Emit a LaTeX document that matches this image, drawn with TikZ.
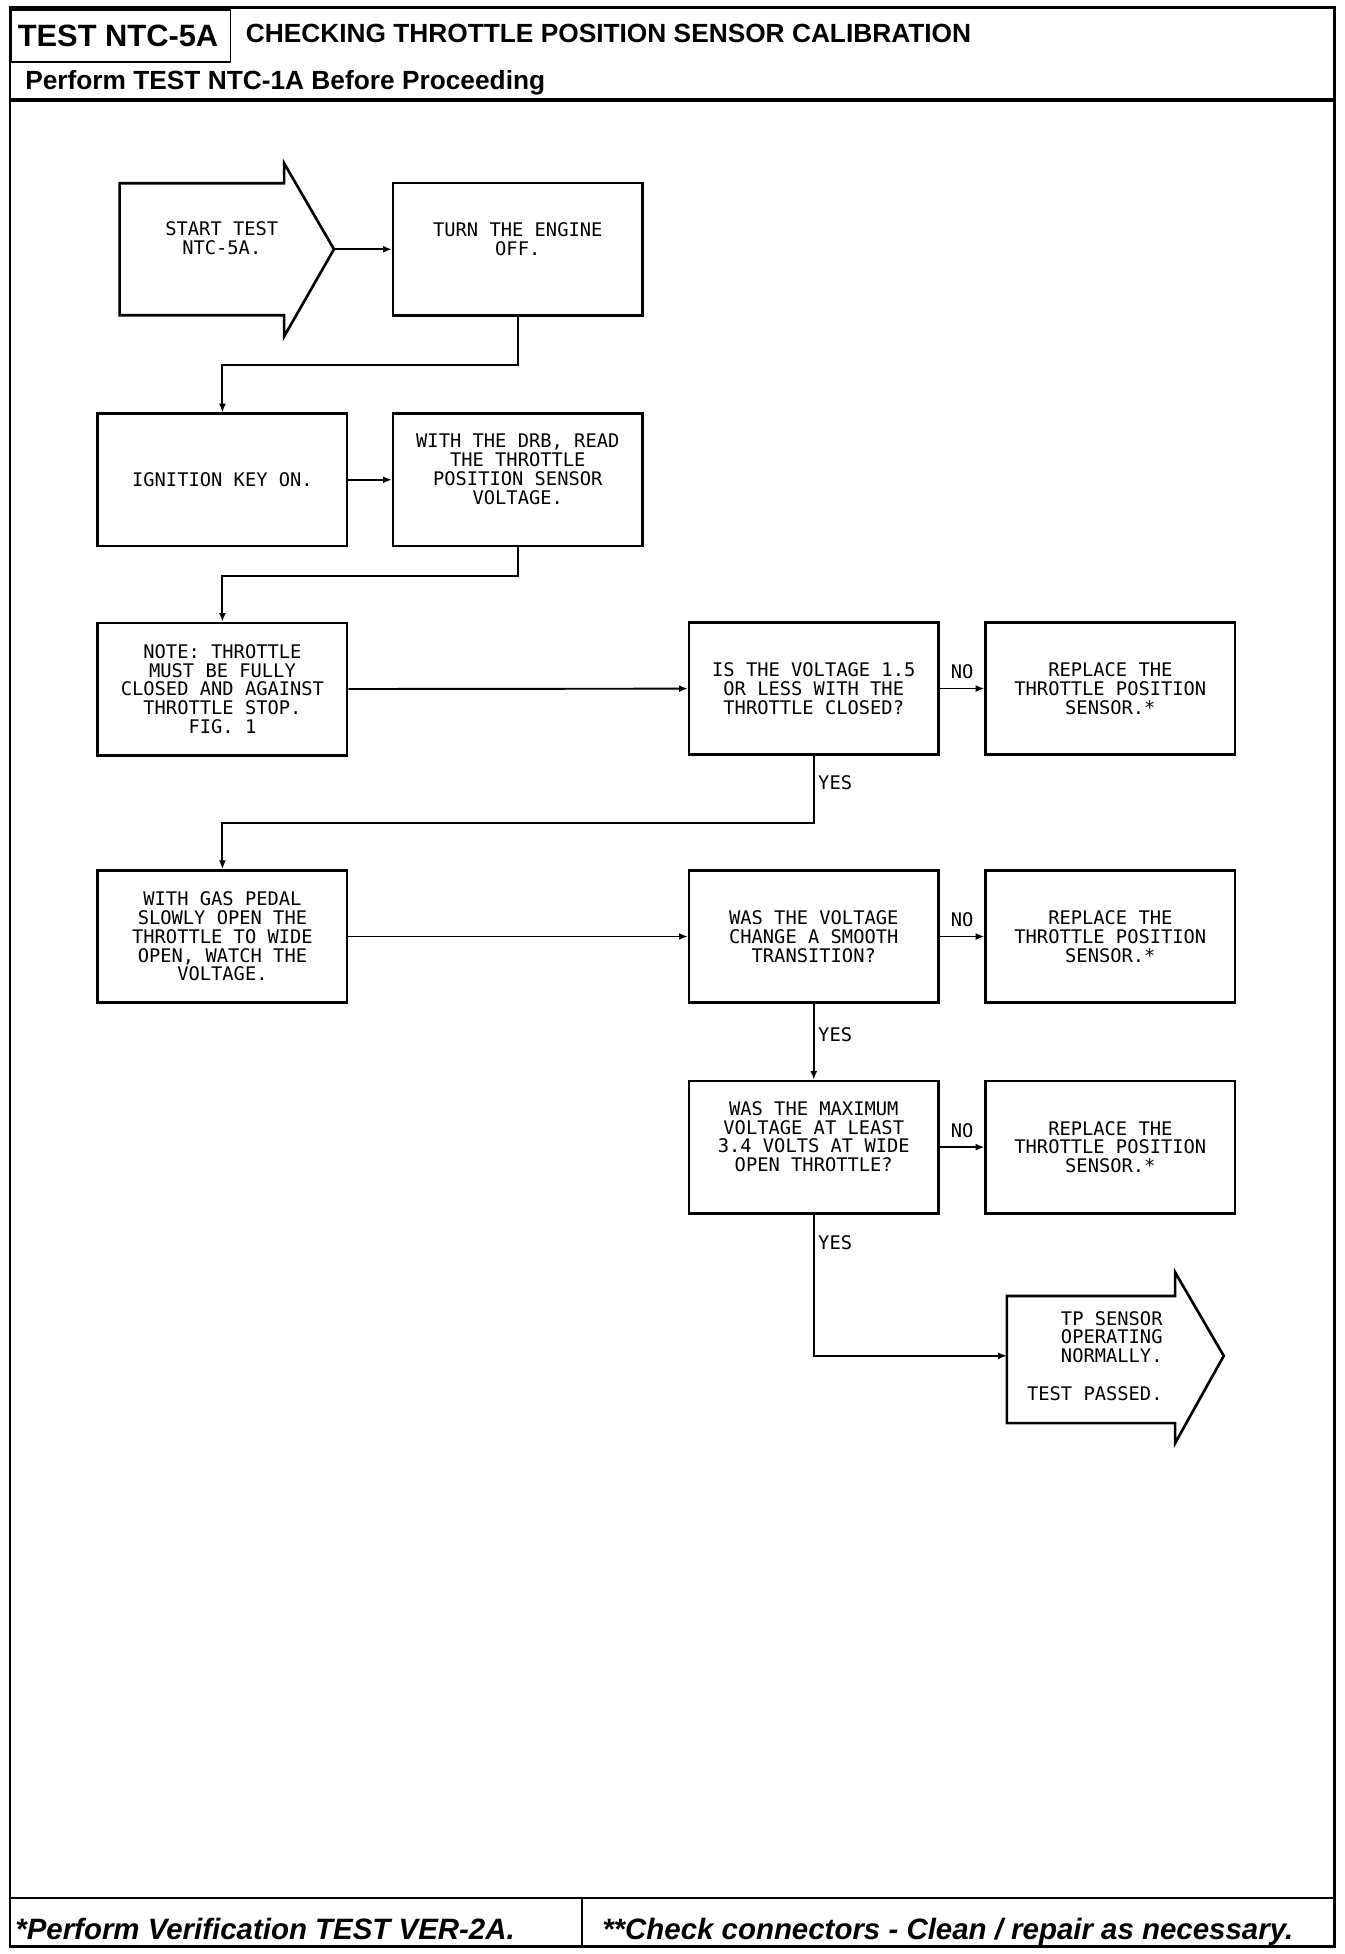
\documentclass[tikz,border=0pt]{standalone}
\usepackage{fontspec}
\setmainfont{Liberation Sans}
\newfontfamily\plotfont{DejaVu Sans Mono}
\usetikzlibrary{arrows.meta}
\begin{document}
\begin{tikzpicture}[x=0.025cm,y=-0.025cm,
  box/.style={draw,line width=1.5pt,minimum width=5cm,minimum height=2.65cm,inner sep=0pt,align=center,font=\plotfont\fontsize{10.7}{10.7}\selectfont},
  plot/.style={font=\plotfont\fontsize{10.7}{10.7}\selectfont,inner sep=2pt},
  flow/.style={line width=1.1pt,-{Latex[length=5pt,width=4pt]}},
  head/.style={font=\bfseries\fontsize{15}{18}\selectfont,inner sep=0pt,anchor=base west},
  foot/.style={font=\bfseries\itshape\fontsize{16.8}{20}\selectfont,inner sep=0pt,anchor=base west}]
\useasboundingbox (0,0) rectangle (1079,1568);
\draw[line width=1.6pt] (8,6) rectangle (1071,1562);
\draw[line width=1pt] (9,8) rectangle (185,50);
\draw[line width=2.2pt] (8,80) -- (1071,80);
\draw[line width=1.6pt] (8,1523) -- (1071,1523);
\draw[line width=1.2pt] (467,1523) -- (467,1562);
\node[head,font=\bfseries\fontsize{17.6}{20}\selectfont] (testid) at (14,37) {TEST NTC-5A};
\node[head] (title) at (197,34) {CHECKING THROTTLE POSITION SENSOR CALIBRATION};
\node[head] (before) at (20,72) {Perform TEST NTC-1A Before Proceeding};
\node[foot] (verify) at (12,1556) {*Perform Verification TEST VER-2A.};
\node[foot] (connect) at (483,1556) {**Check connectors - Clean / repair as necessary.};

\draw[line width=1.5pt] (96,147) -- (228,147) -- (228,131) -- (268,200) -- (228,270) -- (228,253) -- (96,253) -- cycle;
\coordinate (starttip) at (268,200);
\node[plot,align=center] (start) at (178,191) {START TEST\\NTC-5A.};
\node[box] (engine) at (415.5,200) {TURN THE ENGINE\\OFF.\\[1.3pt]\mbox{}};
\node[box] (ignition) at (178.5,385) {IGNITION KEY ON.};
\node[box] (readtps) at (415.5,385) {WITH THE DRB, READ\\THE THROTTLE\\POSITION SENSOR\\VOLTAGE.\\[1.3pt]\mbox{}};
\node[box] (note) at (178.5,553) {NOTE: THROTTLE\\MUST BE FULLY\\CLOSED AND AGAINST\\THROTTLE STOP.\\FIG. 1};
\node[box] (closed) at (653,552.5) {IS THE VOLTAGE 1.5\\OR LESS WITH THE\\THROTTLE CLOSED?};
\node[box] (replaceA) at (891,552.5) {REPLACE THE\\THROTTLE POSITION\\SENSOR.*};
\node[box] (pedal) at (178.5,751.5) {WITH GAS PEDAL\\SLOWLY OPEN THE\\THROTTLE TO WIDE\\OPEN, WATCH THE\\VOLTAGE.};
\node[box] (smooth) at (653,751.5) {WAS THE VOLTAGE\\CHANGE A SMOOTH\\TRANSITION?};
\node[box] (replaceB) at (891,751.5) {REPLACE THE\\THROTTLE POSITION\\SENSOR.*};
\node[box] (maxvolt) at (653,920.5) {WAS THE MAXIMUM\\VOLTAGE AT LEAST\\3.4 VOLTS AT WIDE\\OPEN THROTTLE?\\[1.3pt]\mbox{}};
\node[box] (replaceC) at (891,920.5) {REPLACE THE\\THROTTLE POSITION\\SENSOR.*};
\draw[line width=1.5pt] (808,1040) -- (943,1040) -- (943,1021) -- (982,1088) -- (943,1158) -- (943,1142) -- (808,1142) -- cycle;
\coordinate (passin) at (808,1088);
\node[plot,align=right,anchor=east] (passed) at (936,1088) {TP SENSOR\\OPERATING\\NORMALLY.\\[10.7pt]TEST PASSED.};

\draw[flow] (starttip) -- (engine);
\draw[flow] (engine.south) -- ++(0,39) -| (ignition.north);
\draw[flow] (ignition) -- (readtps);
\draw[flow] (readtps.south) -- ++(0,23) -| (note.north);
\draw[flow] (note) -- (closed);
\draw[flow] (closed) -- node[plot,above=3pt] (noA) {NO} (replaceA);
\draw[flow] (closed.south) -- node[plot,right,pos=0.4] (yesA) {YES} ++(0,54) -| (pedal.north);
\draw[flow] (pedal) -- (smooth);
\draw[flow] (smooth) -- node[plot,above=3pt] (noB) {NO} (replaceB);
\draw[flow] (smooth) -- node[plot,right,pos=0.4] (yesB) {YES} (maxvolt);
\draw[flow] (maxvolt) -- node[plot,above=3pt] (noC) {NO} (replaceC);
\draw[flow] (maxvolt.south) |- node[plot,right,pos=0.1] (yesC) {YES} (passin);
\end{tikzpicture}
\end{document}
